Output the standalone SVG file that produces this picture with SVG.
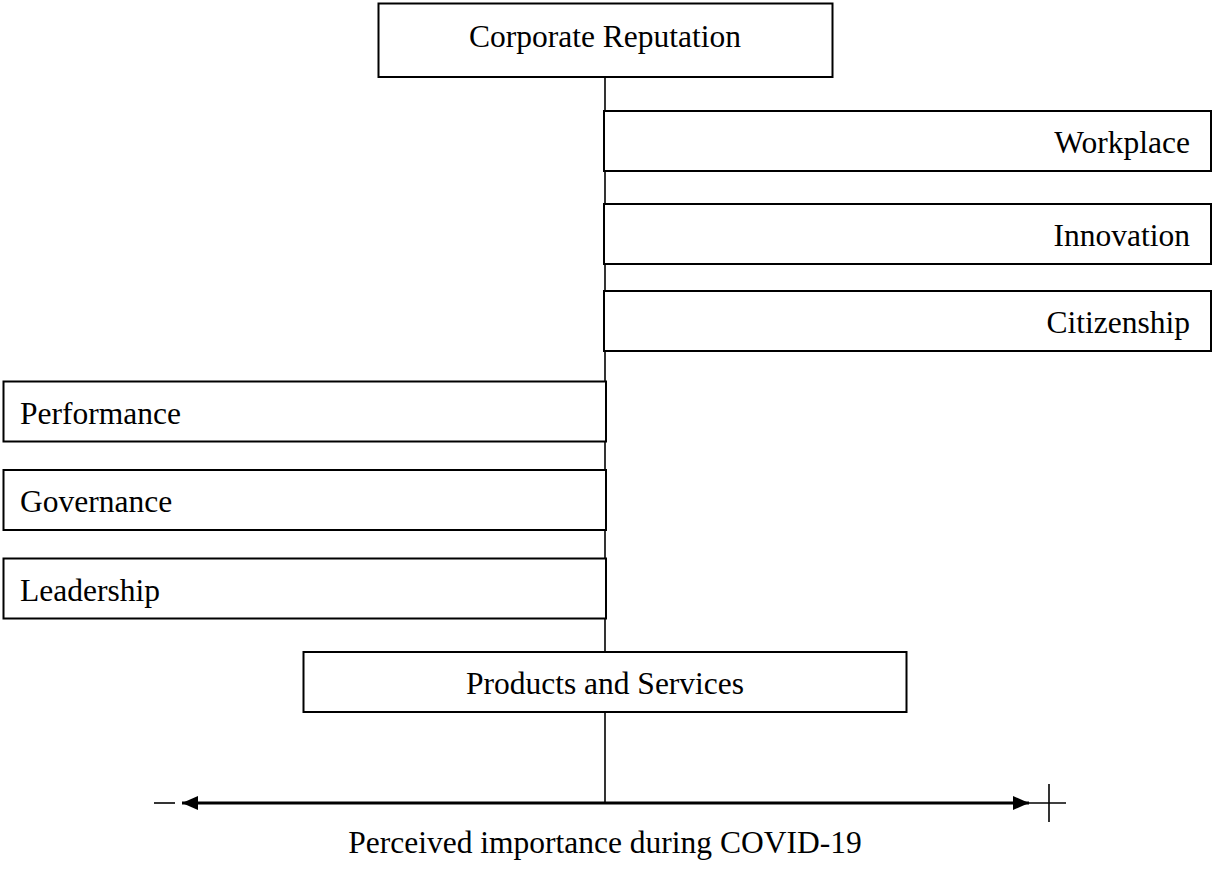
<svg xmlns="http://www.w3.org/2000/svg" width="1212" height="872" viewBox="0 0 1212 872">
<defs>
<style>
.box{fill:#fff;stroke:#000;stroke-width:2}
.t{font-family:"Liberation Serif","Times New Roman",serif;font-size:31.5px;fill:#000}
.c{text-anchor:middle}
.r{text-anchor:end}
.ln{stroke:#000;stroke-width:1.6;fill:none}
</style>
<marker id="ah" viewBox="0 0 16 14" refX="16" refY="7" markerWidth="16" markerHeight="14" markerUnits="userSpaceOnUse" orient="auto-start-reverse">
<path d="M0,0 L16,7 L0,14 Z" fill="#000"/>
</marker>
</defs>
<rect width="1212" height="872" fill="#fff"/>
<g id="connectors">
<line class="ln" x1="605" y1="77" x2="605" y2="803"/>
<line x1="182" y1="803" x2="1029" y2="803" stroke="#000" stroke-width="3" marker-start="url(#ah)" marker-end="url(#ah)"/>
<line class="ln" x1="154" y1="803" x2="175" y2="803" stroke-width="2"/>
<line class="ln" x1="1029" y1="803" x2="1066" y2="803"/>
<line class="ln" x1="1049" y1="784" x2="1049" y2="822"/>
</g>
<g id="corporate-reputation">
<rect class="box" x="378.5" y="3.5" width="454" height="73.5"/>
<text class="t c" x="605" y="47">Corporate Reputation</text>
</g>
<g id="workplace">
<rect class="box" x="604" y="111" width="607" height="60"/>
<text class="t r" x="1190" y="153">Workplace</text>
</g>
<g id="innovation">
<rect class="box" x="604" y="204" width="607" height="60"/>
<text class="t r" x="1190" y="246">Innovation</text>
</g>
<g id="citizenship">
<rect class="box" x="604" y="291" width="607" height="60"/>
<text class="t r" x="1190" y="333">Citizenship</text>
</g>
<g id="performance">
<rect class="box" x="3.5" y="381.5" width="602.5" height="60"/>
<text class="t" x="20" y="423.5">Performance</text>
</g>
<g id="governance">
<rect class="box" x="3.5" y="470" width="602.5" height="60"/>
<text class="t" x="20" y="512">Governance</text>
</g>
<g id="leadership">
<rect class="box" x="3.5" y="558.5" width="602.5" height="60"/>
<text class="t" x="20" y="600.5">Leadership</text>
</g>
<g id="products-and-services">
<rect class="box" x="303.5" y="652" width="603" height="60"/>
<text class="t c" x="605" y="694">Products and Services</text>
</g>
<text class="t c" x="605" y="853">Perceived importance during COVID-19</text>
</svg>
